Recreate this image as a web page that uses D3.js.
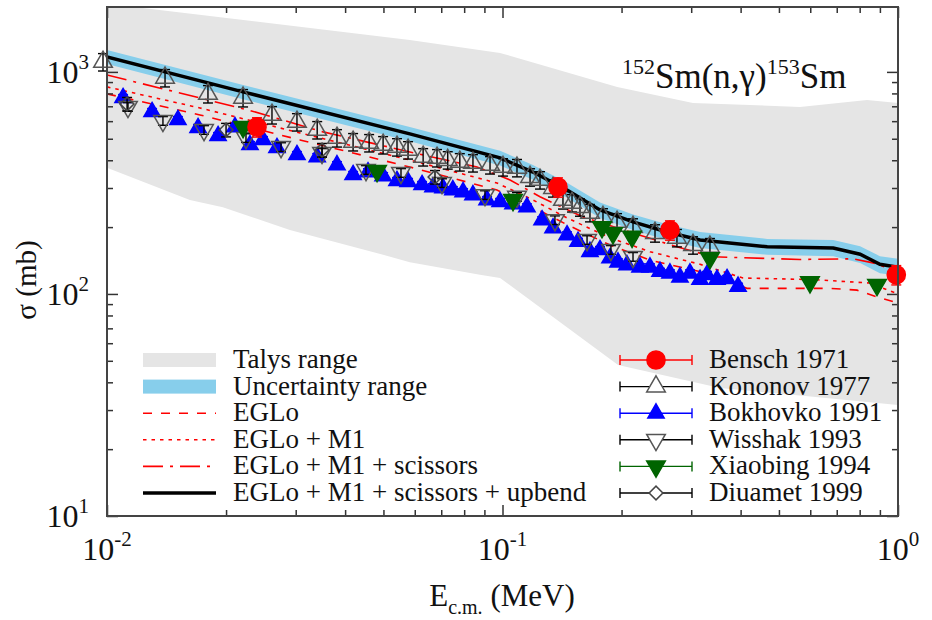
<!DOCTYPE html>
<html>
<head>
<meta charset="utf-8">
<script src="https://cdn.jsdelivr.net/npm/d3@7"></script>
<style>
  body { margin: 0; background: #fff; }
  text { font-family: "Liberation Serif", "Times New Roman", serif; fill: #111; }
</style>
</head>
<body>
<div id="chart-area"></div>
<script>
// ---- Talys range (grey band) ----
var talysUpE = [0.01, 0.01164, 0.0583, 0.0986, 0.195, 0.303, 0.565, 0.835, 1.0];
var talysUp  = [2030, 1963, 1393, 1218, 855, 725, 695, 748, 725];
var talysLoE = [0.01, 0.0162, 0.01963, 0.029, 0.0499, 0.0583, 0.0877, 0.0986, 0.196, 0.355, 0.61, 1.0];
var talysLo  = [370, 265, 246, 194, 150, 139, 122, 118, 47.9, 37.7, 34.4, 31.6];

// ---- EGLo + M1 + scissors + upbend, with uncertainty range ----
var upbendE = [0.01, 0.02208, 0.0583, 0.0986, 0.1194, 0.1456, 0.1764, 0.2138, 0.2606, 0.3158, 0.467, 0.686, 0.802, 0.90, 1.0];
var upbend  = [1168, 813, 526, 410, 354, 294, 239, 211, 190, 175, 163, 161, 151, 136, 132];
var uncHi   = [1255, 873, 565, 441, 381, 317, 258, 228, 206, 190, 177, 175, 164, 148, 144];
var uncLo   = [1084, 754, 487, 379, 327, 271, 220, 194, 175, 161, 150, 148, 138, 124, 121];

// ---- EGLo + M1 + scissors ----
var scissorsE = [0.01, 0.02272, 0.03517, 0.0583, 0.0862, 0.1045, 0.1244, 0.1598, 0.2227, 0.2761, 0.3405, 0.565, 0.7694, 0.8647, 1.0];
var scissors  = [969, 674, 537, 436, 373, 326, 274, 222, 184, 163, 147, 143, 144, 138, 126];

// ---- EGLo + M1 ----
var m1E = [0.01, 0.01718, 0.03076, 0.0583, 0.0968, 0.1194, 0.1456, 0.187, 0.236, 0.3158, 0.4057, 0.61, 0.8494, 1.0];
var m1  = [856, 688, 531, 401, 316, 265, 220, 179, 155, 136, 118, 116, 112, 100];

// ---- EGLo ----
var egloE = [0.01, 0.01718, 0.03076, 0.0583, 0.0968, 0.1194, 0.1456, 0.187, 0.236, 0.3158, 0.4151, 0.673, 0.788, 0.9005, 1.0];
var eglo  = [796, 640, 494, 373, 294, 246, 205, 166, 142, 126, 106, 106, 104, 96, 91];

// ---- measurements ----
var benschE = [0.02395, 0.1381, 0.2651, 0.99];
var bensch  = [565, 303, 194, 122];

var kononovE = [0.00977, 0.01402, 0.018, 0.02208, 0.02613, 0.03022, 0.034, 0.03815, 0.0419, 0.046, 0.0499, 0.0541,
                0.0577, 0.063, 0.0683, 0.0727, 0.078, 0.0842, 0.093, 0.1003, 0.1088, 0.1174, 0.1244, 0.1342, 0.1422,
                0.1499, 0.157, 0.1664, 0.1795, 0.1948, 0.2138, 0.243, 0.2761, 0.3032, 0.3346];
var kononov  = [1109, 940, 796, 764, 640, 595, 548, 504, 484, 479, 469, 459,
                445, 414, 410, 401, 393, 389, 381, 373, 370, 336, 326, 300, 265,
                257, 246, 232, 222, 211, 200, 188, 179, 166, 163];

var bokhovkoE = [0.01098, 0.013, 0.01511, 0.01699, 0.01909, 0.02107, 0.02299, 0.0248, 0.0269, 0.03022, 0.034, 0.03815,
                 0.0419, 0.0457, 0.0499, 0.0541, 0.0577, 0.0626, 0.0667, 0.0707, 0.0749, 0.0795, 0.0842, 0.0914,
                 0.0986, 0.1063, 0.1153, 0.1259, 0.1342, 0.1456, 0.1552, 0.1664, 0.1764, 0.187, 0.1959, 0.2064,
                 0.2227, 0.236, 0.2502, 0.2651, 0.281, 0.2979, 0.3158, 0.3289, 0.3486, 0.3696, 0.3941];
var bokhovko  = [764, 661, 608, 560, 515, 565, 469, 494, 455, 423, 414, 381,
                 344, 354, 340, 323, 320, 310, 303, 300, 294, 288, 279, 265,
                 260, 254, 246, 215, 198, 184, 172, 155, 158, 145, 139, 135,
                 132, 132, 126, 124, 119, 124, 116, 122, 116, 117, 108];

var wisshakE = [0.0113, 0.01385, 0.01759, 0.02246, 0.02754, 0.03497, 0.04517, 0.05538, 0.0703, 0.0903, 0.1088, 0.1357, 0.1636, 0.188, 0.2138];
var wisshak  = [696, 602, 548, 504, 459, 432, 362, 351, 316, 279, 274, 215, 175, 158, 147];

var xiaobingE = [0.02208, 0.04817, 0.1063, 0.1785, 0.1903, 0.2126, 0.3346, 0.599, 0.885];
var xiaobing  = [565, 358, 265, 200, 188, 181, 145, 113, 110];

var diuametE = [0.01124, 0.02, 0.03497, 0.0675];
var diuamet  = [717, 548, 445, 336];

// relative error of each data set
var benschErr = 0.10, kononovErr = 0.09, bokhovkoErr = 0.035, wisshakErr = 0.045, xiaobingErr = 0.03, diuametErr = 0.07;

// ---- axes / legends ----
var xTickExp = [-2, -1, 0];
var yTickExp = [1, 2, 3];
var modelNames = ["Talys range", "Uncertainty range", "EGLo", "EGLo + M1", "EGLo + M1 + scissors", "EGLo + M1 + scissors + upbend"];
var dataNames = ["Bensch 1971", "Kononov 1977", "Bokhovko 1991", "Wisshak 1993", "Xiaobing 1994", "Diuamet 1999"];

var svg = d3.select("#chart-area").append("svg")
    .attr("width", 932)
    .attr("height", 620);

var x = d3.scaleLog().domain([0.01, 1]).range([107, 898]);
var y = d3.scaleLog().domain([10, 1960]).range([516, 7]);

var zip = function(xs, ys) { return xs.map(function(e, i) { return [e, ys[i]]; }); };

svg.append("clipPath").attr("id", "clip")
  .append("rect").attr("x", 107).attr("y", 7).attr("width", 791).attr("height", 509);

var plot = svg.append("g").attr("clip-path", "url(#clip)");

var line = d3.line().x(d => x(d[0])).y(d => y(d[1]));

// Talys band
var talysPoly = zip(talysUpE, talysUp).concat(zip(talysLoE, talysLo).reverse());
plot.append("path")
    .attr("d", line(talysPoly) + "Z")
    .attr("fill", "#e5e5e5");

// uncertainty band
var band = d3.area()
    .x((d, i) => x(upbendE[i]))
    .y0((d, i) => y(uncLo[i]))
    .y1((d, i) => y(uncHi[i]));
plot.append("path")
    .attr("d", band(upbendE))
    .attr("fill", "#87ceeb");

// model curves
var models = [
    { e: egloE, v: eglo, dash: "9,9", color: "#f00", w: 1.6 },
    { e: m1E, v: m1, dash: "3.5,5", color: "#f00", w: 1.6 },
    { e: scissorsE, v: scissors, dash: "20,7,3,7", color: "#f00", w: 1.6 },
    { e: upbendE, v: upbend, dash: null, color: "#000", w: 3.5 }
];
models.forEach(function(m) {
    plot.append("path")
        .attr("d", line(zip(m.e, m.v)))
        .attr("fill", "none")
        .attr("stroke", m.color)
        .attr("stroke-width", m.w)
        .attr("stroke-dasharray", m.dash);
});

// data sets
var tri = d3.symbol().type(d3.symbolTriangle).size(150);
var triSmall = d3.symbol().type(d3.symbolTriangle).size(115);
var circ = d3.symbol().type(d3.symbolCircle).size(260);
var diam = d3.symbol().type(d3.symbolSquare).size(95);

var sets = [
    { e: bokhovkoE, v: bokhovko, err: bokhovkoErr, bar: "#00f", sym: triSmall, rot: 0, fill: "#00f", stroke: "#00f" },
    { e: wisshakE, v: wisshak, err: wisshakErr, bar: "#000", sym: tri, rot: 180, fill: "none", stroke: "#555" },
    { e: diuametE, v: diuamet, err: diuametErr, bar: "#000", sym: diam, rot: 45, fill: "none", stroke: "#444" },
    { e: kononovE, v: kononov, err: kononovErr, bar: "#000", sym: tri, rot: 0, fill: "none", stroke: "#555" },
    { e: xiaobingE, v: xiaobing, err: xiaobingErr, bar: "#006400", sym: tri, rot: 180, fill: "#006400", stroke: "#006400" },
    { e: benschE, v: bensch, err: benschErr, bar: "#f00", sym: circ, rot: 0, fill: "#f00", stroke: "#f00" }
];

var marks = svg.append("g");
sets.forEach(function(s) {
    var pts = zip(s.e, s.v);
    var g = marks.append("g");
    var bars = g.selectAll(".eb").data(pts).enter().append("g")
        .attr("stroke", s.bar).attr("stroke-width", 1.4);
    bars.append("line")
        .attr("x1", d => x(d[0])).attr("x2", d => x(d[0]))
        .attr("y1", d => y(d[1] * (1 - s.err))).attr("y2", d => y(d[1] * (1 + s.err)));
    bars.append("line")
        .attr("x1", d => x(d[0]) - 5).attr("x2", d => x(d[0]) + 5)
        .attr("y1", d => y(d[1] * (1 - s.err))).attr("y2", d => y(d[1] * (1 - s.err)));
    bars.append("line")
        .attr("x1", d => x(d[0]) - 5).attr("x2", d => x(d[0]) + 5)
        .attr("y1", d => y(d[1] * (1 + s.err))).attr("y2", d => y(d[1] * (1 + s.err)));
    g.selectAll(".mk").data(pts).enter().append("path")
        .attr("d", s.sym)
        .attr("transform", d => "translate(" + x(d[0]) + "," + y(d[1]) + ") rotate(" + s.rot + ")")
        .attr("fill", s.fill)
        .attr("stroke", s.stroke)
        .attr("stroke-width", 1.5);
});

// axes: major + minor ticks on all four sides, pointing inward
var xMajor = xTickExp.map(p => Math.pow(10, p));
var yMajor = yTickExp.map(p => Math.pow(10, p));
var xMinor = [], yMinor = [];
[0.01, 0.1].forEach(function(b) { for (var k = 2; k < 10; k++) xMinor.push(b * k); });
[10, 100, 1000].forEach(function(b) { for (var k = 2; k < 10; k++) if (b * k <= 1960) yMinor.push(b * k); });

var axes = svg.append("g").attr("stroke-width", 1.5);
function addAxis(gen, scale, vals, size, tr) {
    axes.append("g").attr("transform", tr)
        .call(gen(scale).tickValues(vals).tickSize(size).tickFormat(""))
        .call(g => g.select(".domain").remove())
        .selectAll("line").attr("stroke", "#333").attr("stroke-width", 1.5);
}
addAxis(d3.axisBottom, x, xMajor, -11, "translate(0,516)");
addAxis(d3.axisBottom, x, xMinor, -6, "translate(0,516)");
addAxis(d3.axisTop, x, xMajor, -11, "translate(0,7)");
addAxis(d3.axisTop, x, xMinor, -6, "translate(0,7)");
addAxis(d3.axisLeft, y, yMajor, -11, "translate(107,0)");
addAxis(d3.axisLeft, y, yMinor, -6, "translate(107,0)");
addAxis(d3.axisRight, y, yMajor, -11, "translate(898,0)");
addAxis(d3.axisRight, y, yMinor, -6, "translate(898,0)");

svg.append("rect")
    .attr("x", 107).attr("y", 7).attr("width", 791).attr("height", 509)
    .attr("fill", "none").attr("stroke", "#444").attr("stroke-width", 2);

// tick labels with superscript exponents
var xl = svg.selectAll(".xl").data(xTickExp).enter().append("text")
    .attr("x", d => x(Math.pow(10, d)))
    .attr("y", 560)
    .attr("text-anchor", "middle")
    .style("font-size", "32px");
xl.append("tspan").text("10");
xl.append("tspan").attr("dy", -14).style("font-size", "21px").text(d => d);

var yl = svg.selectAll(".yl").data(yTickExp).enter().append("text")
    .attr("x", 89)
    .attr("y", d => y(Math.pow(10, d)) + 11)
    .attr("text-anchor", "end")
    .style("font-size", "32px");
yl.append("tspan").text("10");
yl.append("tspan").attr("dy", -14).style("font-size", "21px").text(d => d);

// axis titles
var xt = svg.append("text").attr("x", 502).attr("y", 606).attr("text-anchor", "middle").style("font-size", "31px");
xt.append("tspan").text("E");
xt.append("tspan").attr("dy", 8).style("font-size", "20px").text("c.m.");
xt.append("tspan").attr("dy", -8).text(" (MeV)");

svg.append("text")
    .attr("transform", "translate(36,280) rotate(-90)")
    .attr("text-anchor", "middle")
    .style("font-size", "29px")
    .text("σ (mb)");

// reaction label
var title = svg.append("text").attr("x", 622).attr("y", 88).style("font-size", "35px");
title.append("tspan").attr("dy", -14).style("font-size", "22px").text("152");
title.append("tspan").attr("dy", 14).text("Sm(n,γ)");
title.append("tspan").attr("dy", -14).style("font-size", "22px").text("153");
title.append("tspan").attr("dy", 14).text("Sm");

// left legend: model curves
var lg = svg.append("g");
var rowY = d => 360 + d * 26.6;
modelNames.forEach(function(name, i) {
    var cy = rowY(i);
    if (i === 0 || i === 1) {
        lg.append("rect").attr("x", 143).attr("y", cy - 7).attr("width", 73).attr("height", 14)
            .attr("fill", i === 0 ? "#e5e5e5" : "#87ceeb");
    } else {
        var m = models[i - 2];
        lg.append("line").attr("x1", 143).attr("x2", 216).attr("y1", cy).attr("y2", cy)
            .attr("stroke", m.color).attr("stroke-width", m.w).attr("stroke-dasharray", m.dash);
    }
    lg.append("text").attr("x", 233).attr("y", cy + 8).style("font-size", "27px").text(name);
});

// right legend: data sets
var legendSets = [sets[5], sets[3], sets[0], sets[1], sets[4], sets[2]];
legendSets.forEach(function(s, i) {
    var cy = rowY(i);
    var g = lg.append("g").attr("stroke", s.bar).attr("stroke-width", 1.4);
    g.append("line").attr("x1", 620).attr("x2", 692).attr("y1", cy).attr("y2", cy);
    g.append("line").attr("x1", 620).attr("x2", 620).attr("y1", cy - 5).attr("y2", cy + 5);
    g.append("line").attr("x1", 692).attr("x2", 692).attr("y1", cy - 5).attr("y2", cy + 5);
    lg.append("path").attr("d", s.sym)
        .attr("transform", "translate(656," + cy + ") rotate(" + s.rot + ")")
        .attr("fill", s.fill === "none" ? "#fff" : s.fill)
        .attr("stroke", s.stroke).attr("stroke-width", 1.5);
    lg.append("text").attr("x", 709).attr("y", cy + 8).style("font-size", "27px").text(dataNames[i]);
});
</script>
</body>
</html>
